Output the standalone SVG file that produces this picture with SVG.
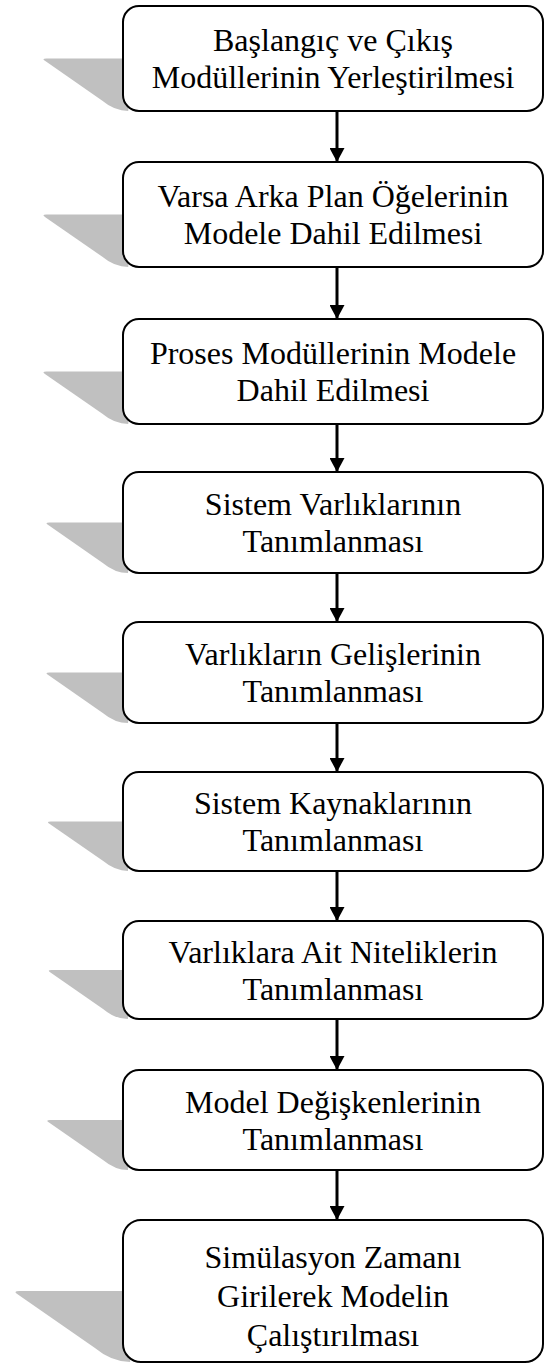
<svg xmlns="http://www.w3.org/2000/svg" xmlns:xlink="http://www.w3.org/1999/xlink" width="544" height="1363" viewBox="0 0 544 1363">
  <style>
    .shadow { fill: #c0c0c0; }
    .box { fill: #ffffff; stroke: #000000; stroke-width: 2; }
    .label { font-family: "Liberation Serif", "Times New Roman", serif; font-size: 32px; fill: #000000; text-anchor: middle; }
    .edge { stroke: #000000; stroke-width: 3; fill: none; }
  </style>
  <defs>
    <!-- perspective shadow for a box of height 100, origin at the box's top-left -->
    <path id="shadow" d="M 8 50 L -73 50 Q -78 50 -74 52.5 L -20 90 Q -8 100 5 100 Z"/>
    <marker id="arrow" markerUnits="userSpaceOnUse" markerWidth="16" markerHeight="15" refX="15" refY="8" orient="auto" viewBox="0 0 15 16">
      <path d="M 0 0 L 15 8 L 0 16 Z" fill="#000000"/>
    </marker>
  </defs>

  <!-- connectors -->
  <g id="connectors">
    <line class="edge" x1="337" y1="111" x2="337" y2="162" marker-end="url(#arrow)"/>
    <line class="edge" x1="337" y1="267" x2="337" y2="319" marker-end="url(#arrow)"/>
    <line class="edge" x1="337" y1="424" x2="337" y2="472" marker-end="url(#arrow)"/>
    <line class="edge" x1="337" y1="573" x2="337" y2="622" marker-end="url(#arrow)"/>
    <line class="edge" x1="337" y1="723" x2="337" y2="772" marker-end="url(#arrow)"/>
    <line class="edge" x1="337" y1="871" x2="337" y2="921" marker-end="url(#arrow)"/>
    <line class="edge" x1="337" y1="1019" x2="337" y2="1070" marker-end="url(#arrow)"/>
    <line class="edge" x1="337" y1="1170" x2="337" y2="1220" marker-end="url(#arrow)"/>
  </g>

  <g id="step1">
    <use xlink:href="#shadow" href="#shadow" class="shadow" transform="translate(123 6) scale(1.05)"/>
    <rect class="box" x="123" y="6" width="420" height="105" rx="16"/>
    <text class="label" x="333" y="51">Başlangıç ve Çıkış</text>
    <text class="label" x="333" y="88">Modüllerinin Yerleştirilmesi</text>
  </g>

  <g id="step2">
    <use xlink:href="#shadow" href="#shadow" class="shadow" transform="translate(123 162) scale(1.05)"/>
    <rect class="box" x="123" y="162" width="420" height="105" rx="16"/>
    <text class="label" x="333" y="207">Varsa Arka Plan Öğelerinin</text>
    <text class="label" x="333" y="244">Modele Dahil Edilmesi</text>
  </g>

  <g id="step3">
    <use xlink:href="#shadow" href="#shadow" class="shadow" transform="translate(123 319) scale(1.05)"/>
    <rect class="box" x="123" y="319" width="420" height="105" rx="16"/>
    <text class="label" x="333" y="364">Proses Modüllerinin Modele</text>
    <text class="label" x="333" y="401">Dahil Edilmesi</text>
  </g>

  <g id="step4">
    <use xlink:href="#shadow" href="#shadow" class="shadow" transform="translate(123 472) scale(1.01)"/>
    <rect class="box" x="123" y="472" width="420" height="101" rx="16"/>
    <text class="label" x="333" y="515">Sistem Varlıklarının</text>
    <text class="label" x="333" y="552">Tanımlanması</text>
  </g>

  <g id="step5">
    <use xlink:href="#shadow" href="#shadow" class="shadow" transform="translate(123 622) scale(1.01)"/>
    <rect class="box" x="123" y="622" width="420" height="101" rx="16"/>
    <text class="label" x="333" y="665">Varlıkların Gelişlerinin</text>
    <text class="label" x="333" y="702">Tanımlanması</text>
  </g>

  <g id="step6">
    <use xlink:href="#shadow" href="#shadow" class="shadow" transform="translate(123 772) scale(0.99)"/>
    <rect class="box" x="123" y="772" width="420" height="99" rx="16"/>
    <text class="label" x="333" y="814">Sistem Kaynaklarının</text>
    <text class="label" x="333" y="851">Tanımlanması</text>
  </g>

  <g id="step7">
    <use xlink:href="#shadow" href="#shadow" class="shadow" transform="translate(123 921) scale(0.98)"/>
    <rect class="box" x="123" y="921" width="420" height="98" rx="16"/>
    <text class="label" x="333" y="962.5">Varlıklara Ait Niteliklerin</text>
    <text class="label" x="333" y="999.5">Tanımlanması</text>
  </g>

  <g id="step8">
    <use xlink:href="#shadow" href="#shadow" class="shadow" transform="translate(123 1070) scale(1.0)"/>
    <rect class="box" x="123" y="1070" width="420" height="100" rx="16"/>
    <text class="label" x="333" y="1112.5">Model Değişkenlerinin</text>
    <text class="label" x="333" y="1149.5">Tanımlanması</text>
  </g>

  <g id="step9">
    <use xlink:href="#shadow" href="#shadow" class="shadow" transform="translate(123 1220) scale(1.42)"/>
    <rect class="box" x="123" y="1220" width="420" height="142" rx="18"/>
    <text class="label" x="333" y="1268">Simülasyon Zamanı</text>
    <text class="label" x="333" y="1307">Girilerek Modelin</text>
    <text class="label" x="333" y="1346">Çalıştırılması</text>
  </g>
</svg>
